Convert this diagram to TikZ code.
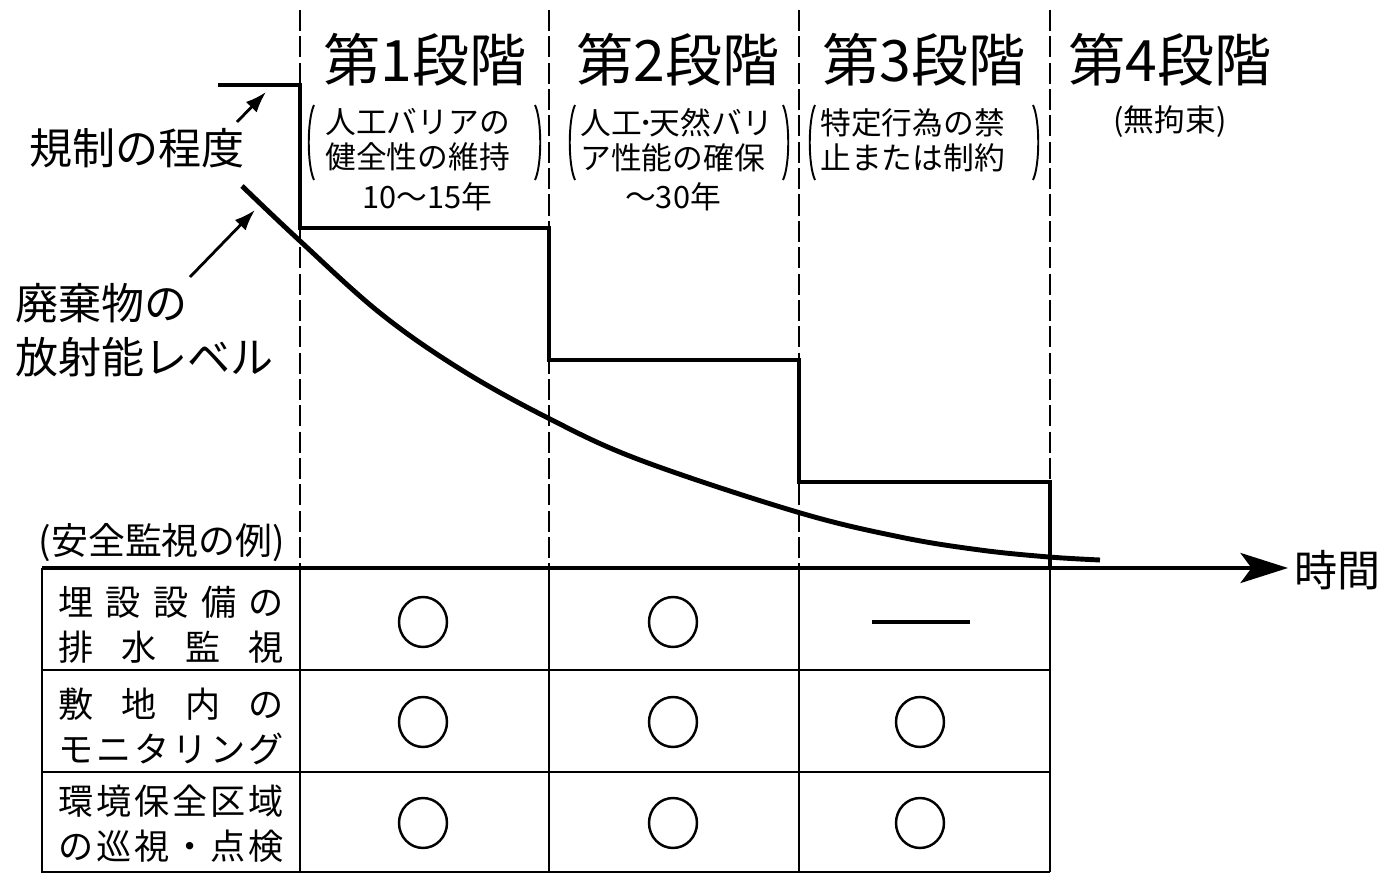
\documentclass[tikz,border=0pt]{standalone}
\usepackage{fontspec}
\setmainfont{Noto Sans CJK JP}
\usetikzlibrary{arrows.meta,shapes.geometric}

\newcommand{\spreadline}[1]{\makebox[4.52cm]{#1}}

\begin{document}
\begin{tikzpicture}[x=0.02cm, y=-0.02cm]

\tikzset{level/.style = {line width=2.8pt},
  guide/.style = {line width=1.1pt, dash pattern=on 12pt off 3pt},
  cell/.style = {line width=1.6pt},
  pointer/.style = {line width=1.6pt, -{Latex[length=0.42cm, width=0.3cm]}},
  stagehead/.style = {font=\fontsize{32.5}{36}\selectfont, inner sep=0pt},
  note/.style = {font=\fontsize{17.5}{20}\selectfont, inner sep=0pt, align=left},
  side/.style = {font=\fontsize{24.5}{31}\selectfont, inner sep=0pt, align=left},
  rowhead/.style = {font=\fontsize{20}{25.6}\selectfont, inner sep=0pt, align=center},
  yes/.style = {draw, ellipse, line width=1.4pt, minimum width=0.96cm, minimum height=1cm, inner sep=0pt},
  brk/.style = {line width=1.1pt}}

\useasboundingbox (0,0) rectangle (1387,874);

% stage borders
\foreach \x in {300,549,799,1050}
  \draw[guide] (\x,10) -- (\x,568);

\node[stagehead] (s1) at (425,60) {第1段階};
\node[stagehead] (s2) at (678,60) {第2段階};
\node[stagehead] (s3) at (924,60) {第3段階};
\node[stagehead] (s4) at (1170,60) {第4段階};

\node[note, anchor=west] (n1) at (325,140) {人工バリアの\\健全性の維持};
\node[note, anchor=west] (n2) at (580,140) {人工\kern-0.12em･\kern-0.12em 天然バリ\\ア性能の確保};
\node[note, anchor=west] (n3) at (820,140) {特定行為の禁\\止または制約};
\node[note] (n4) at (1170,122) {(無拘束)};
\node[note] (y1) at (427,197) {10〜15年};
\node[note] (y2) at (673,197) {〜30年};

% big brackets
\foreach \l/\r in {307/542,568/790,808/1040} {
  \draw[brk] (\l+7,105) .. controls (\l,120) and (\l,165) .. (\l+7,180);
  \draw[brk] (\r-7,105) .. controls (\r,120) and (\r,165) .. (\r-7,180);
}

% regulation level and activity
\draw[level] (218,85) -| (300,228) -| (549,360) -| (799,482) -| (1050,568);
\draw[level] plot[smooth, tension=0.6] coordinates {(242,186) (300,241) (380,313)
  (460,369) (548,418) (640,460) (797,512) (900,537) (980,550) (1049,557) (1100,560)};

\node[side, anchor=west] (reg) at (29,148) {規制の程度};
\node[side, anchor=west] (rad) at (15,330) {廃棄物の\\放射能レベル};
\coordinate (regfoot) at (237,122);
\coordinate (regtip) at (266,92);
\coordinate (radfoot) at (190,277);
\coordinate (radtip) at (255,210);
\draw[pointer] (regfoot) -- (regtip);
\draw[pointer] (radfoot) -- (radtip);

% time axis
\coordinate (origin) at (42,568);
\node[side, anchor=west] (time) at (1294,570) {時間};
\draw[line width=2.2pt, -{Stealth[length=0.95cm, width=0.6cm, inset=0.22cm]}]
  (origin) -- ([xshift=-0.12cm]origin -| time.west);

% monitoring table
\node[font=\fontsize{21}{24}\selectfont, inner sep=0pt] (ex) at (162,543) {(安全監視の例)};
\draw[cell] (origin) -- (42,872) -- (1050,872);
\foreach \y in {670,772}
  \draw[cell] (42,\y) -- (1050,\y);
\foreach \x in {300,549,799,1050}
  \draw[cell] (\x,568) -- (\x,872);

\node[rowhead] (r1) at (171,625) {\spreadline{埋\hfill 設\hfill 設\hfill 備\hfill の}\\
  \spreadline{排\hfill 水\hfill 監\hfill 視}};
\node[rowhead] (r2) at (171,726) {\spreadline{敷\hfill 地\hfill 内\hfill の}\\
  \spreadline{モ\hfill ニ\hfill タ\hfill リ\hfill ン\hfill グ}};
\node[rowhead] (r3) at (171,824) {\spreadline{環\hfill 境\hfill 保\hfill 全\hfill 区\hfill 域}\\
  \spreadline{の\hfill 巡\hfill 視\hfill ・\hfill 点\hfill 検}};

\foreach \r/\y in {1/622,2/722,3/823}
  \foreach \c/\x in {1/423,2/673}
    \node[yes] (c\r\c) at (\x,\y) {};
\node[yes] (c23) at (920,722) {};
\node[yes] (c33) at (920,823) {};
\coordinate (dashl) at (872,622);
\coordinate (dashr) at (970,622);
\draw[line width=2.2pt] (dashl) -- (dashr);

\end{tikzpicture}
\end{document}
